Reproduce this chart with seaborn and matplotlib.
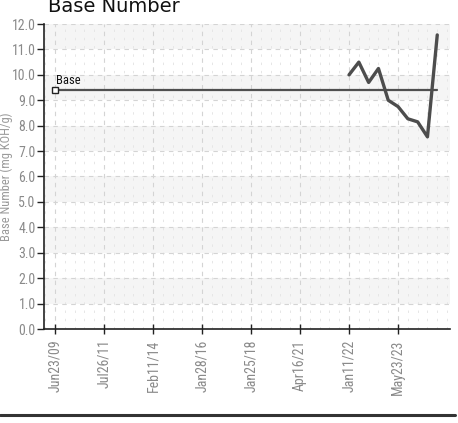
import numpy as np
import pandas as pd
import matplotlib
matplotlib.use("Agg")
import matplotlib.pyplot as plt
from matplotlib.lines import Line2D
from matplotlib.ticker import MultipleLocator
import seaborn as sns

# data
tick_labels = ["Jun23/09", "Jul26/11", "Feb11/14", "Jan28/16",
               "Jan25/18", "Apr16/21", "Jan11/22", "May23/23"]
tick_pos = [0, 5, 10, 15, 20, 25, 30, 35]
sample_idx = [30, 31, 32, 33, 34, 35, 36, 37, 38, 39]
bn_values = [10.0, 10.5, 9.7, 10.25, 9.0, 8.75, 8.27, 8.15, 7.56, 11.57]
base_value = 9.4
base_idx = [0, 39]

sns.set_style("white")
plt.rcParams["font.family"] = ["Roboto Condensed", "Roboto", "DejaVu Sans"]

fig = plt.figure(figsize=(4.58, 4.23), dpi=100)
ax = fig.add_axes([44 / 458, 94 / 423, 406 / 458, 305 / 423])

# alternating bands
for lo in range(1, 12, 2):
    ax.axhspan(lo, lo + 1, color="#f5f5f5", zorder=0, lw=0)

df = pd.DataFrame({"idx": sample_idx, "bn": bn_values})
base_df = pd.DataFrame({"idx": base_idx, "bn": [base_value] * len(base_idx)})

sns.lineplot(data=base_df, x="idx", y="bn", ax=ax, color="#505050", lw=1.6, zorder=3)
sns.lineplot(data=df, x="idx", y="bn", ax=ax, color="#4d4d4d", lw=2.4, zorder=4)
ax.plot(base_idx[0], base_value, marker="s", ms=4, mfc="white", mec="#222", mew=1, zorder=5)
ax.text(base_idx[0] + 0.1, base_value + 0.12, "Base", fontsize=9, color="#111", va="bottom")

ax.set_xlim(-1.12, 40.3)
ax.set_ylim(0, 12)
ax.yaxis.set_major_locator(MultipleLocator(1))
ax.set_yticklabels([f"{v:.1f}" for v in ax.get_yticks()])
ax.set_xticks(tick_pos)
ax.set_xticklabels(tick_labels, rotation=90)
ax.xaxis.set_minor_locator(MultipleLocator(1))

ax.grid(True, which="major", color="#d4d4d4", ls=(0, (4, 4)), lw=0.8)
ax.grid(True, which="minor", axis="x", color="#e6e6e6", ls=(0, (2.5, 6)), lw=0.7)
ax.set_axisbelow(True)

for s in ["top", "right"]:
    ax.spines[s].set_visible(False)
for s in ["left", "bottom"]:
    ax.spines[s].set_color("#222")
    ax.spines[s].set_linewidth(1.2)

ax.tick_params(axis="y", which="major", direction="out", length=5, width=1,
               color="#222", labelsize=10, labelcolor="#8a8a8a", pad=1)
ax.tick_params(axis="x", which="major", direction="inout", length=7, width=1,
               color="#222", labelsize=10, labelcolor="#8a8a8a", pad=4)
ax.tick_params(axis="x", which="minor", direction="out", length=2, width=0.6, color="#aaa")
ax.tick_params(left=True, bottom=True)

ax.set_xlabel("")
ax.set_ylabel("Base Number (mg KOH/g)", fontsize=9, color="#9a9a9a", labelpad=2)
ax.yaxis.set_label_coords(-0.077, 0.5)

fig.text(48 / 458, 1.0 - 12 / 423, "Base Number", fontsize=14, color="#111",
         family="DejaVu Sans", va="baseline", ha="left")

fig.add_artist(Line2D([0, 455 / 458], [1 - 415 / 423] * 2, color="#333", lw=2.2))

fig.savefig("out.png", dpi=100)
